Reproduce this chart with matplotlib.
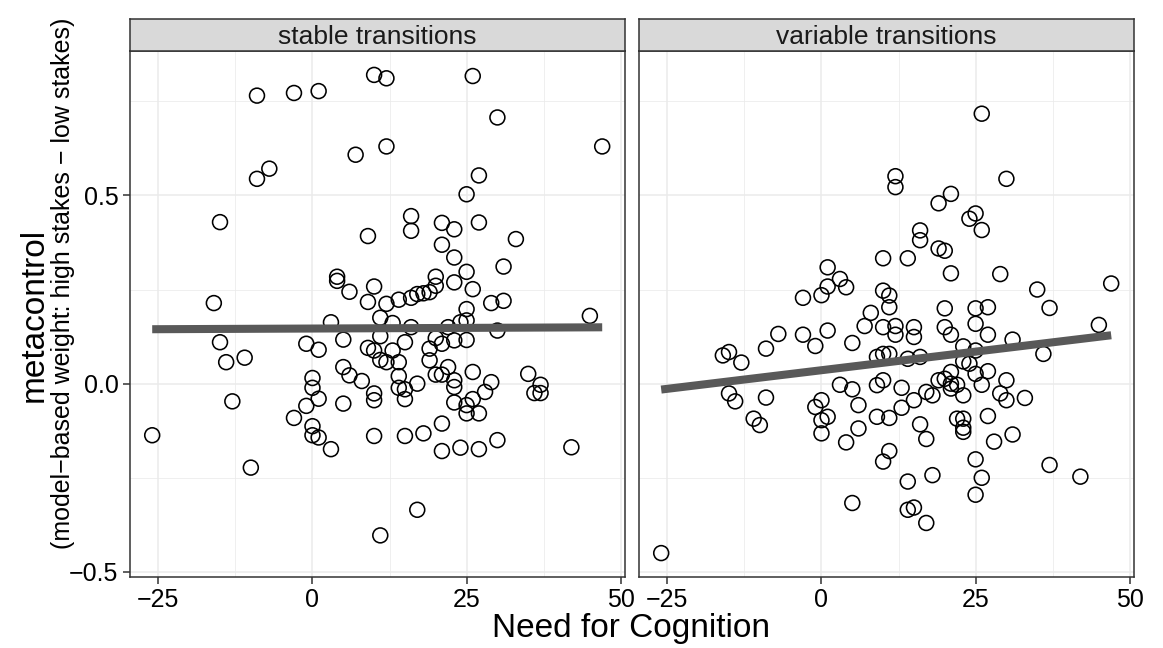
import numpy as np
import matplotlib
matplotlib.use("Agg")
import matplotlib.pyplot as plt
from matplotlib.ticker import MultipleLocator

plt.rcParams['font.family'] = ['Liberation Sans', 'DejaVu Sans']

panel_titles = ['stable transitions', 'variable transitions']

# (need for cognition, metacontrol)
stable_points = [
    (10, 0.820), (12, 0.811), (26, 0.817), (-9, 0.765), (-3, 0.772), (1, 0.777),
    (30, 0.707), (47, 0.630), (12, 0.630), (7, 0.608), (-7, 0.571), (-9, 0.544),
    (27, 0.553), (25, 0.503), (16, 0.445), (16, 0.406), (-15, 0.429), (21, 0.427),
    (23, 0.410), (27, 0.428), (9, 0.392), (33, 0.384), (21, 0.369), (23, 0.335),
    (31, 0.311), (25, 0.297), (4, 0.284), (4, 0.273), (20, 0.284), (20, 0.260),
    (10, 0.258), (23, 0.269), (26, 0.251), (6, 0.244), (19, 0.243), (18, 0.240),
    (17, 0.238), (16, 0.228), (14, 0.223), (12, 0.212), (9, 0.217), (-16, 0.214),
    (29, 0.214), (31, 0.220), (25, 0.198), (45, 0.180), (11, 0.175), (3, 0.163),
    (13, 0.161), (24, 0.163), (25, 0.168), (16, 0.150), (22, 0.150), (30, 0.141),
    (20, 0.121), (5, 0.117), (11, 0.126), (15, 0.110), (21, 0.106), (23, 0.115),
    (25, 0.116), (-15, 0.110), (-1, 0.106), (1, 0.090), (9, 0.095), (10, 0.088),
    (13, 0.088), (19, 0.093), (-11, 0.069), (-14, 0.057), (11, 0.063), (12, 0.057),
    (14, 0.057), (19, 0.062), (5, 0.044), (22, 0.044), (6, 0.022), (8, 0.007),
    (0, 0.015), (14, 0.020), (20, 0.024), (21, 0.024), (26, 0.031), (35, 0.026),
    (17, 0.000), (23, 0.009), (29, 0.004), (37, -0.003), (36, -0.025), (37, -0.025),
    (0, -0.011), (14, -0.011), (15, -0.015), (23, -0.009), (28, -0.022), (10, -0.026),
    (10, -0.044), (1, -0.040), (15, -0.041), (26, -0.041), (-13, -0.047), (-1, -0.059),
    (5, -0.053), (23, -0.050), (25, -0.057), (25, -0.079), (27, -0.079), (-3, -0.091),
    (21, -0.106), (0, -0.113), (0, -0.137), (1, -0.143), (-26, -0.137), (10, -0.139),
    (15, -0.139), (18, -0.132), (30, -0.150), (42, -0.169), (3, -0.174), (21, -0.179),
    (24, -0.170), (27, -0.174), (-10, -0.223), (17, -0.335), (11, -0.403),
]

variable_points = [
    (26, 0.717), (30, 0.544), (12, 0.551), (12, 0.522), (21, 0.504), (19, 0.479),
    (25, 0.452), (24, 0.438), (26, 0.408), (16, 0.407), (16, 0.381), (19, 0.359),
    (20, 0.353), (14, 0.333), (10, 0.333), (1, 0.309), (21, 0.293), (29, 0.291),
    (3, 0.278), (1, 0.258), (4, 0.256), (47, 0.266), (35, 0.250), (10, 0.247),
    (11, 0.234), (0, 0.235), (-3, 0.228), (11, 0.203), (8, 0.188), (20, 0.200),
    (25, 0.200), (27, 0.203), (37, 0.201), (45, 0.156), (7, 0.153), (10, 0.150),
    (12, 0.153), (12, 0.130), (15, 0.150), (15, 0.124), (20, 0.150), (21, 0.130),
    (25, 0.159), (27, 0.130), (31, 0.117), (1, 0.141), (-7, 0.132), (-3, 0.130),
    (-1, 0.100), (5, 0.108), (-9, 0.093), (-16, 0.075), (-15, 0.084), (-13, 0.056),
    (9, 0.071), (10, 0.079), (11, 0.079), (14, 0.066), (16, 0.071), (23, 0.099),
    (25, 0.088), (36, 0.079), (23, 0.059), (24, 0.053), (25, 0.026), (27, 0.033),
    (21, 0.031), (20, 0.013), (19, 0.009), (21, 0.000), (22, -0.003), (21, -0.013),
    (23, -0.031), (26, -0.003), (30, 0.009), (29, -0.026), (30, -0.044), (33, -0.038),
    (17, -0.022), (18, -0.031), (15, -0.044), (13, -0.011), (13, -0.064), (3, -0.003),
    (5, -0.015), (9, -0.004), (10, 0.009), (6, -0.057), (-15, -0.026), (-14, -0.047),
    (-9, -0.037), (-11, -0.093), (-10, -0.110), (-1, -0.062), (0, -0.044), (0, -0.097),
    (1, -0.088), (0, -0.132), (9, -0.088), (11, -0.091), (6, -0.119), (4, -0.156),
    (16, -0.108), (17, -0.147), (22, -0.093), (23, -0.093), (23, -0.117), (23, -0.128),
    (27, -0.086), (28, -0.154), (31, -0.135), (11, -0.179), (10, -0.207), (25, -0.201),
    (37, -0.216), (42, -0.247), (26, -0.250), (18, -0.243), (14, -0.260), (25, -0.295),
    (14, -0.335), (15, -0.329), (17, -0.370), (5, -0.317), (-26, -0.450),
]

panels = [np.array(stable_points).T, np.array(variable_points).T]

# shared scales with ggplot-style 5% expansion
all_x = np.concatenate([p[0] for p in panels])
all_y = np.concatenate([p[1] for p in panels])
xpad = 0.05 * (all_x.max() - all_x.min())
ypad = 0.05 * (all_y.max() - all_y.min())
xlim = (all_x.min() - xpad, all_x.max() + xpad)
ylim = (all_y.min() - ypad, all_y.max() + ypad)

W, H = 1163, 648
fig = plt.figure(figsize=(W / 100, H / 100), dpi=100)

panel_left = [129.7, 638.7]
panel_w = 495
panel_top, panel_bot = 51, 577
strip_top = 19

for i, (x, y) in enumerate(panels):
    ax = fig.add_axes([panel_left[i] / W, (H - panel_bot) / H,
                       panel_w / W, (panel_bot - panel_top) / H])
    ax.scatter(x, y, s=115, facecolors='none', edgecolors='black',
               linewidths=1.15, zorder=3)
    # linear fit like geom_smooth(method = "lm", se = FALSE)
    b, a = np.polyfit(x, y, 1)
    xs = np.array([x.min(), x.max()])
    ax.plot(xs, a + b * xs, color='#595959', lw=5.8, solid_capstyle='butt', zorder=4)

    ax.set_xlim(xlim)
    ax.set_ylim(ylim)
    ax.xaxis.set_major_locator(MultipleLocator(25))
    ax.xaxis.set_minor_locator(MultipleLocator(12.5))
    ax.yaxis.set_major_locator(MultipleLocator(0.5))
    ax.yaxis.set_minor_locator(MultipleLocator(0.25))
    ax.grid(which='major', color='#EBEBEB', lw=1.1, zorder=0)
    ax.grid(which='minor', color='#EBEBEB', lw=0.55, zorder=0)
    ax.set_axisbelow(True)
    for sp in ax.spines.values():
        sp.set_color('#333333')
        sp.set_linewidth(1.1)
    ax.tick_params(which='major', length=5, width=1.1, color='#333333',
                   labelsize=18, labelcolor='black', pad=3)
    ax.tick_params(which='minor', length=0)
    ax.yaxis.set_major_formatter(plt.FuncFormatter(lambda v, p: f'{v:.1f}'.replace('-', '\u2212')))
    if i == 1:
        ax.tick_params(axis='y', which='both', left=False, labelleft=False)

    sax = fig.add_axes([panel_left[i] / W, (H - panel_top) / H,
                        panel_w / W, (panel_top - strip_top) / H])
    sax.set_facecolor('#D9D9D9')
    sax.set_xticks([])
    sax.set_yticks([])
    for sp in sax.spines.values():
        sp.set_color('#333333')
        sp.set_linewidth(1.1)
    sax.text(0.5, 0.45, panel_titles[i], ha='center', va='center',
             fontsize=19, color='#1A1A1A', transform=sax.transAxes)

fig.text(631 / W, (H - 628) / H, 'Need for Cognition', ha='center', va='center',
         fontsize=24)
fig.text(34 / W, (H - 315) / H, 'metacontrol', rotation=90, ha='center',
         va='center', fontsize=24)
fig.text(63 / W, (H - 283) / H,
         '(model\u2212based weight: high stakes \u2212 low stakes)', rotation=90,
         ha='center', va='center', fontsize=18)

fig.savefig('out.png', dpi=100)
